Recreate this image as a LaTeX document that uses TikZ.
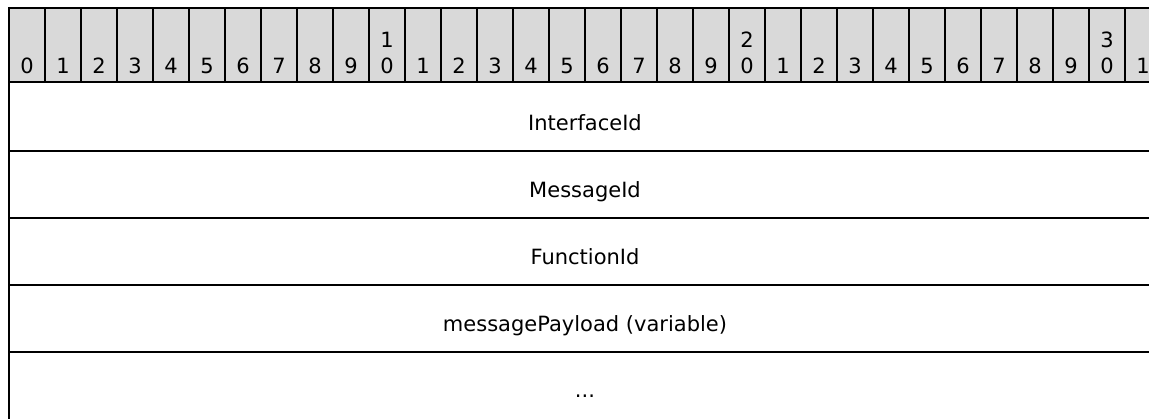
\documentclass[tikz,border=0pt]{standalone}
\usepackage{fontspec}
\setmainfont{DejaVu Sans}
\definecolor{hdrfill}{RGB}{217,217,217}
\begin{document}
\begin{tikzpicture}[x=1pt,y=-1pt,
  font=\fontsize{21}{26}\selectfont,
  lbl/.style={anchor=base,inner sep=0pt},
  divline/.style={line width=1.5pt,black},
  rowline/.style={line width=2pt,black}]
\useasboundingbox (0,0) rectangle (1149,419);
\clip (0,0) rectangle (1149,419);
% header background
\fill[hdrfill] (9,8) rectangle (1161,82.5);
% header dividers
\foreach \i in {1,...,32} \draw[divline] ({9+36*\i},8) -- ({9+36*\i},82.5);
% bit numbers
\foreach \i in {0,...,31}{
  \pgfmathtruncatemacro{\lo}{mod(\i,10)}
  \pgfmathtruncatemacro{\hi}{\i/10}
  \node[lbl] (b\i) at ({27+36*\i},74) {\lo};
  \ifnum\lo=0 \ifnum\i>0
    \node[lbl] (t\i) at ({27+36*\i},48) {\hi};
  \fi\fi
}
% outer lines and row separators
\draw[rowline] (9,8) -- (1161,8);
\draw[rowline] (9,7) -- (9,419);
\foreach \y in {82.5,151,218,285,352} \draw[rowline] (9,\y) -- (1161,\y);
% field labels
\node[lbl] (f1) at (585,131) {InterfaceId};
\node[lbl] (f2) at (585,198) {MessageId};
\node[lbl] (f3) at (585,265) {FunctionId};
\node[lbl] (f4) at (585,332) {messagePayload (variable)};
\node[lbl] (f5) at (585,398) {...};
\end{tikzpicture}
\end{document}
